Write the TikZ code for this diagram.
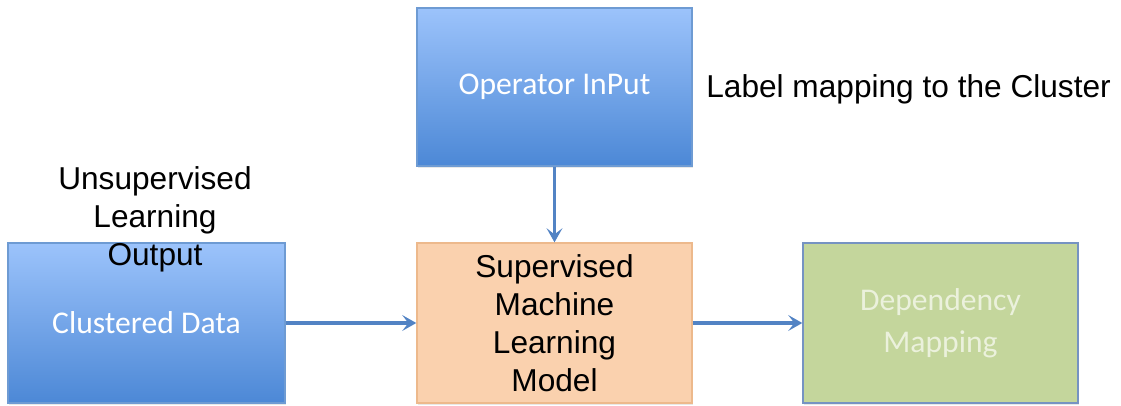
\documentclass[tikz,border=0pt]{standalone}
\usepackage{fontspec}
\setmainfont{Liberation Sans}
\newfontfamily\boxfont{Carlito}
\usetikzlibrary{arrows.meta,shadows}

\definecolor{bluetop}{HTML}{9CC3FB}
\definecolor{bluemid}{HTML}{86B1F0}
\definecolor{bluebot}{HTML}{4C88D6}
\definecolor{blueline}{HTML}{6E9BD3}
\definecolor{peach}{HTML}{FAD1AE}
\definecolor{peachline}{HTML}{EDB98C}
\definecolor{leaf}{HTML}{C4D69C}
\definecolor{leafline}{HTML}{7693C2}
\definecolor{leaftext}{HTML}{EBF1DC}
\definecolor{flowline}{HTML}{5283C4}

\tikzset{
    box/.style={rectangle, draw, line width=0.8pt, inner sep=0pt, align=center,
        minimum width=5.5cm, minimum height=3.2cm, font=\fontsize{18}{21.6}\selectfont,
        drop shadow={opacity=0.18, shadow xshift=0.4pt, shadow yshift=-1.2pt}},
    bluebox/.style={box, draw=blueline, top color=bluetop, middle color=bluemid,
        bottom color=bluebot, text=white, font=\boxfont\fontsize{18}{21.6}\selectfont},
    peachbox/.style={box, draw=peachline, fill=peach, text=black},
    leafbox/.style={box, draw=leafline, fill=leaf, text=leaftext,
        font=\boxfont\fontsize{18}{24}\selectfont},
    note/.style={align=center, inner sep=0pt, font=\fontsize{18}{21.6}\selectfont},
    flow/.style={draw=flowline, line width=2pt, -{Stealth[length=8pt,width=9pt,inset=3.5pt]}}
}

\begin{document}
\begin{tikzpicture}
    \useasboundingbox (0,0) rectangle (22.42,-8.1);

    % Top input box and its side note
    \node [bluebox, minimum height=3.16cm] (OperatorInput) at (11.09,-1.74) {\raisebox{-2pt}{Operator InPut}};
    \node [note, anchor=west] (LabelNote) at (14.12,-1.78) {Label mapping to the Cluster};

    % Row of boxes
    \node [bluebox, minimum width=5.54cm] (ClusteredData) at (2.93,-6.46) {\raisebox{-2pt}{Clustered Data}};
    \node [peachbox] (Model) at (11.09,-6.46) {Supervised\\Machine\\Learning\\Model};
    \node [leafbox] (Dependency) at (18.81,-6.46) {Dependency\\Mapping};

    \node [note] (UnsupNote) at (3.1,-4.38) {Unsupervised\\Learning\\Output};

    \foreach \x/\y in {OperatorInput/Model,ClusteredData/Model,Model/Dependency}
    {
        \draw [flow] (\x) -- (\y);
    }
\end{tikzpicture}
\end{document}
